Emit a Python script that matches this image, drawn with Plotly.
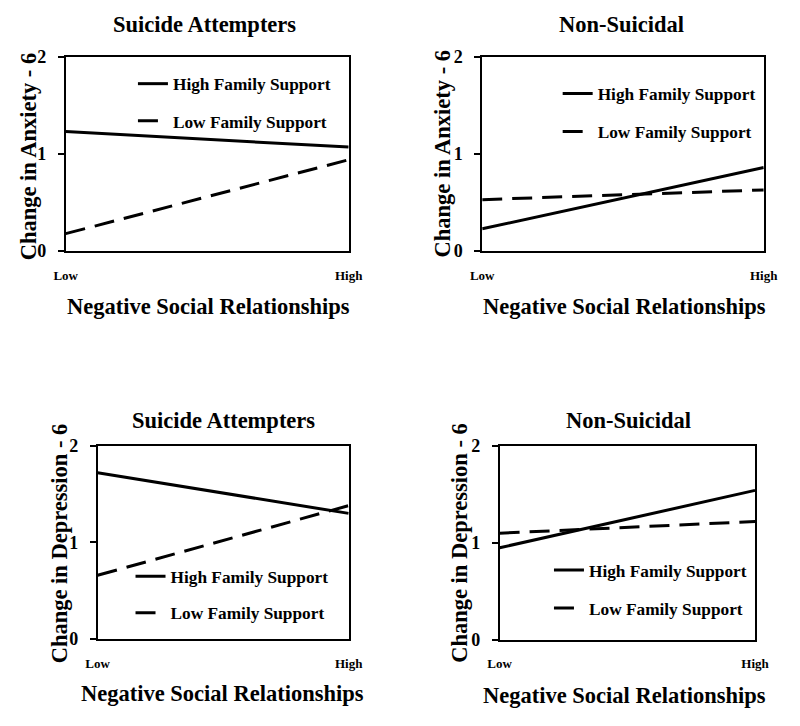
import plotly.graph_objects as go

x_levels = [0, 1]
x_ticktext = ["Low", "High"]
y_ticks = [0, 1, 2]

anx_att_high = [1.23, 1.07]
anx_att_low = [0.18, 0.94]
anx_non_high = [0.23, 0.86]
anx_non_low = [0.53, 0.63]
dep_att_high = [1.72, 1.30]
dep_att_low = [0.66, 1.38]
dep_non_high = [0.95, 1.54]
dep_non_low = [1.10, 1.22]

panel_titles = ["Suicide Attempters", "Non-Suicidal", "Suicide Attempters", "Non-Suicidal"]
y_titles = ["Change in Anxiety - 6", "Change in Anxiety - 6",
            "Change in Depression - 6", "Change in Depression - 6"]
x_title = "Negative Social Relationships"
series_names = ["High Family Support", "Low Family Support"]

W, H = 800, 726
FONT = "Liberation Serif"

# pixel boxes (left, right, top, bottom)
boxes = [(55.5, 348, 48, 248), (486, 777, 48, 248), (88.5, 348, 448, 647), (504, 768, 448, 648)]
title_pos = [(199, 15), (630, 15), (219, 422), (637, 422)]
ytitle_pos = [(17, 150), (445, 148), (50, 548), (463, 548)]
xtitle_pos = [(203, 305), (633, 305), (218, 703), (633, 705)]
legend_pos = [(125, 57.5), (564, 67.5), (122.5, 564), (555, 557.5)]
legend_gaps = [11.6, 12.6, 11, 12.6]

data = [(anx_att_high, anx_att_low), (anx_non_high, anx_non_low),
        (dep_att_high, dep_att_low), (dep_non_high, dep_non_low)]

fig = go.Figure()
annotations = []
layout = {}
for i, (hi, lo) in enumerate(data):
    n = i + 1
    xa = "x" if n == 1 else f"x{n}"
    ya = "y" if n == 1 else f"y{n}"
    lg = "legend" if n == 1 else f"legend{n}"
    fig.add_trace(go.Scatter(x=x_levels, y=hi, mode="lines", name=series_names[0],
                             line=dict(color="black", width=3), xaxis=xa, yaxis=ya,
                             legend=lg, legendgroup=f"h{n}"))
    fig.add_trace(go.Scatter(x=x_levels, y=lo, mode="lines", name=series_names[1],
                             line=dict(color="black", width=3, dash="20px,10px"), xaxis=xa, yaxis=ya,
                             legend=lg, legendgroup=f"l{n}"))
    l, r, t, b = boxes[i]
    layout[f"xaxis{'' if n == 1 else n}"] = dict(
        domain=[l / W, r / W], range=[0, 1], anchor=ya,
        tickvals=x_levels, ticktext=x_ticktext, ticks="", ticklabelstandoff=11,
        tickfont=dict(family=FONT, size=13, color="black", weight="bold"),
        showline=True, mirror=True, linecolor="black", linewidth=1.5,
        showgrid=False, zeroline=False, fixedrange=True)
    layout[f"yaxis{'' if n == 1 else n}"] = dict(
        domain=[1 - b / H, 1 - t / H], range=[0, 2], anchor=xa,
        tickvals=y_ticks, ticks="outside", ticklen=6, tickwidth=1.5, tickcolor="black",
        ticklabelstandoff=8,
        tickfont=dict(family=FONT, size=18, color="black", weight="bold"),
        showline=True, mirror=True, linecolor="black", linewidth=1.5,
        showgrid=False, zeroline=False, fixedrange=True)
    lx, ly = legend_pos[i]
    layout[lg] = dict(x=lx / W, y=1 - ly / H, xanchor="left", yanchor="top",
                      bgcolor="rgba(0,0,0,0)", tracegroupgap=legend_gaps[i],
                      font=dict(family=FONT, size=17.3, color="black", weight="bold"))
    tx, ty = title_pos[i]
    annotations.append(dict(text=panel_titles[i], x=tx / W, y=1 - ty / H, xref="paper", yref="paper",
                            showarrow=False, xanchor="center", yanchor="middle",
                            font=dict(family=FONT, size=22.5, color="black", weight="bold")))
    yx, yy = ytitle_pos[i]
    annotations.append(dict(text=y_titles[i], x=yx / W, y=1 - yy / H, xref="paper", yref="paper",
                            showarrow=False, xanchor="center", yanchor="middle", textangle=-90,
                            font=dict(family=FONT, size=22.5, color="black", weight="bold")))
    xx, xy = xtitle_pos[i]
    annotations.append(dict(text=x_title, x=xx / W, y=1 - xy / H, xref="paper", yref="paper",
                            showarrow=False, xanchor="center", yanchor="middle",
                            font=dict(family=FONT, size=22.5, color="black", weight="bold")))

fig.update_layout(width=W, height=H, margin=dict(l=0, r=0, t=0, b=0),
                  paper_bgcolor="white", plot_bgcolor="white",
                  annotations=annotations, showlegend=True, **layout)
fig.write_html("out.html", config={"displayModeBar": False},
               post_script="document.body.style.margin='0';document.body.style.overflow='hidden';")
